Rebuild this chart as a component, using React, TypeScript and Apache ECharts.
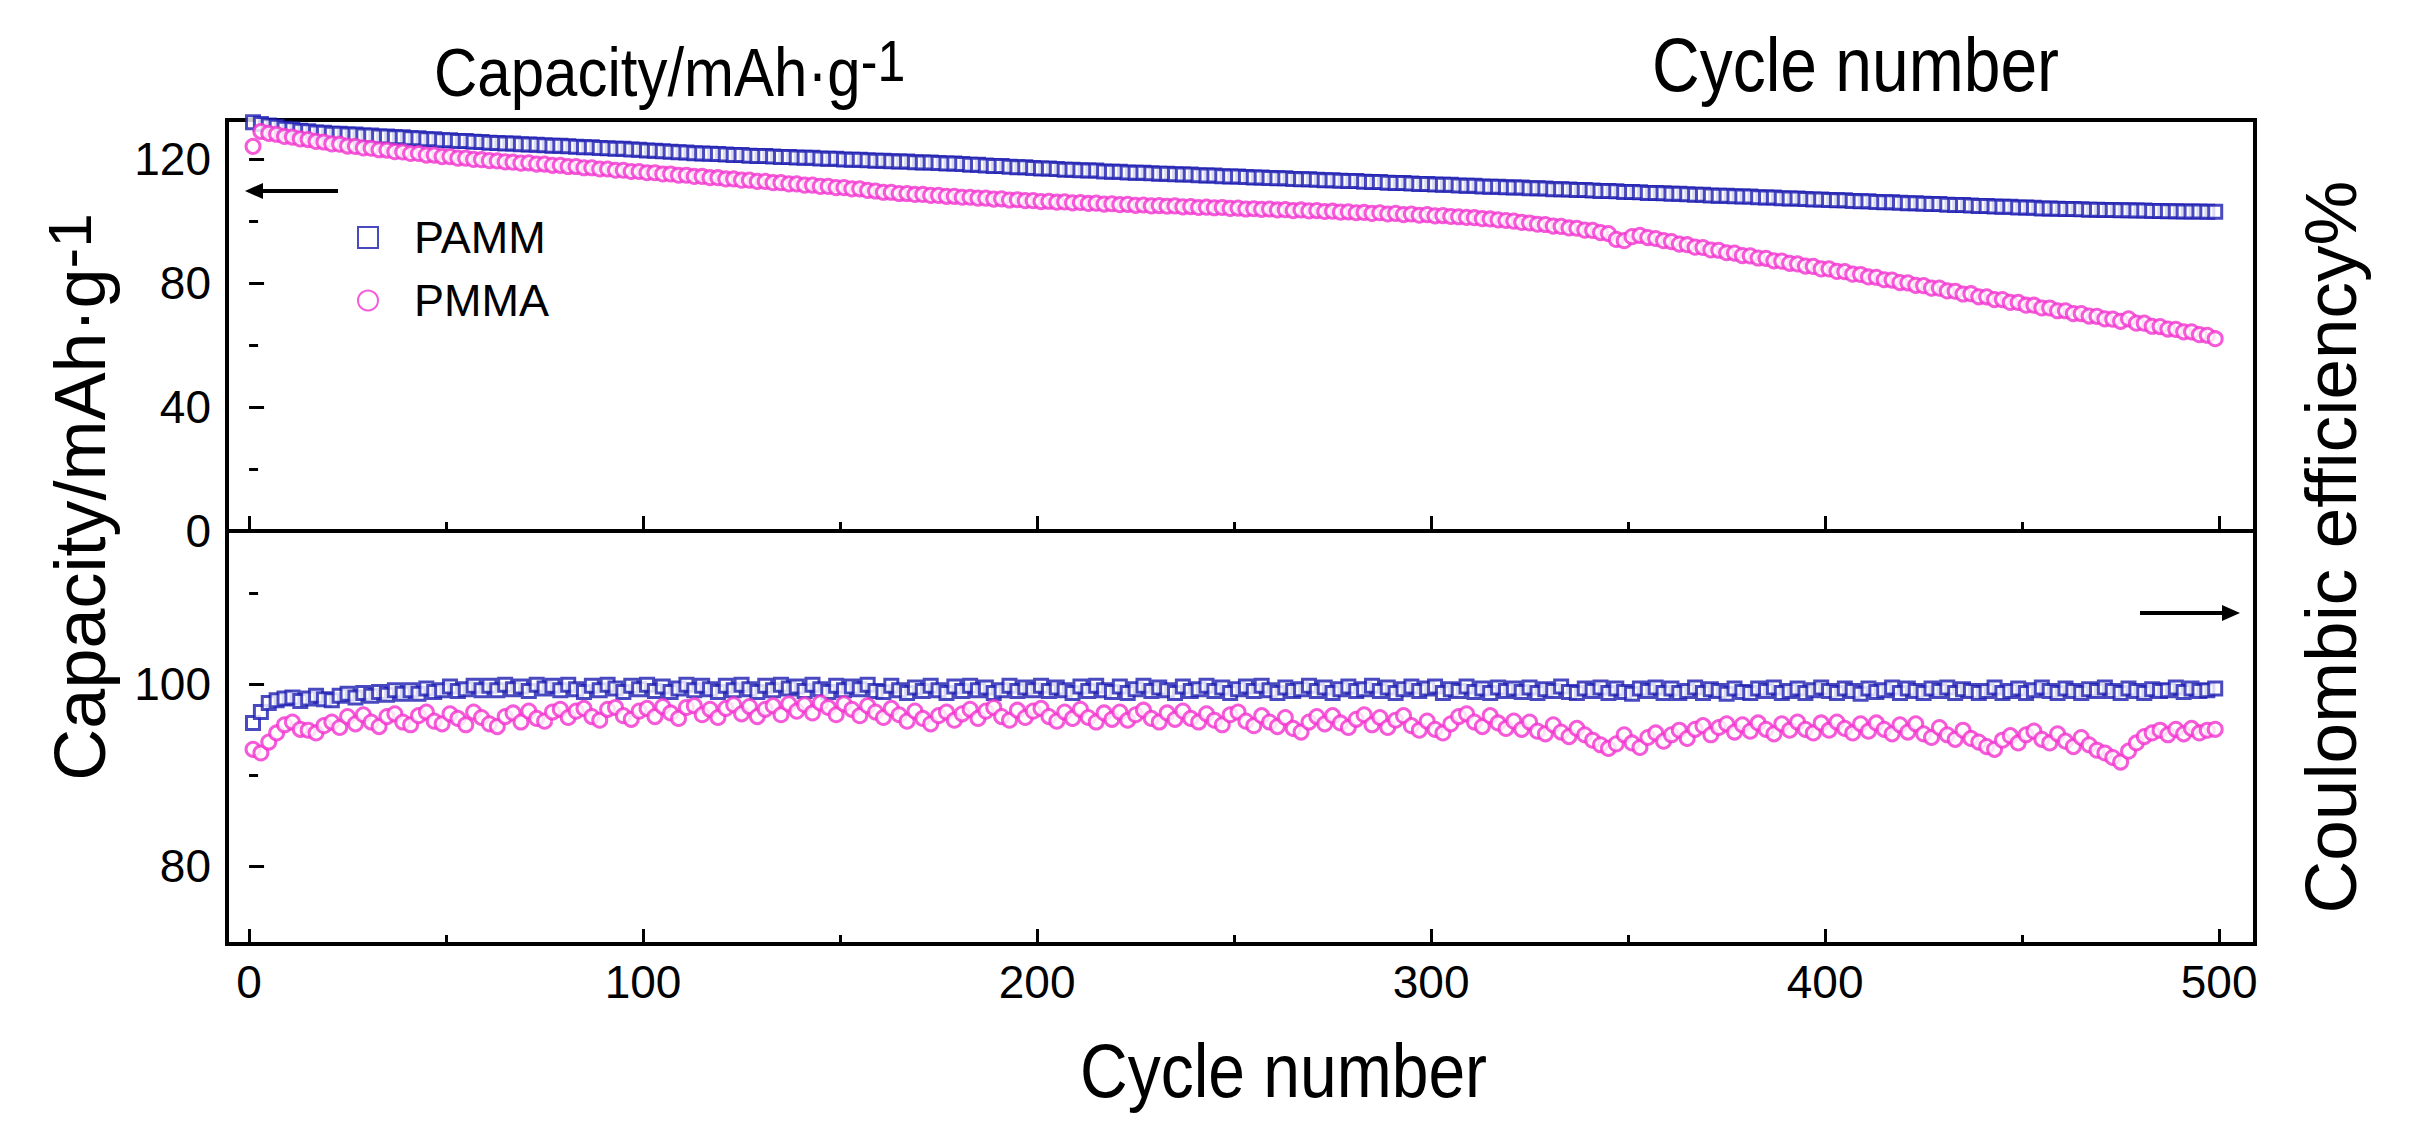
import React, { useEffect, useRef } from "react";
import * as echarts from "echarts";

// ---- data (cycle = 1, 3, 5, ... 499) ----
const CYCLE_START = 1;
const CYCLE_STEP = 2;

const PAMM_CAPACITY = [
  131.8, 131.2, 130.7, 130.3, 129.7, 129.5, 129.0, 128.9, 128.5, 128.4,
  128.1, 128.1, 127.8, 127.8, 127.5, 127.5, 127.2, 127.2, 126.9, 126.9,
  126.6, 126.6, 126.3, 126.3, 126.0, 126.0, 125.7, 125.7, 125.5, 125.4,
  125.2, 125.1, 124.9, 124.9, 124.7, 124.6, 124.5, 124.4, 124.2, 124.2,
  124.0, 123.9, 123.7, 123.7, 123.5, 123.4, 123.2, 123.2, 123.0, 122.9,
  122.7, 122.6, 122.4, 122.3, 122.1, 122.0, 121.8, 121.7, 121.6, 121.5,
  121.4, 121.2, 121.2, 121.0, 120.9, 120.9, 120.7, 120.6, 120.6, 120.4,
  120.3, 120.3, 120.1, 120.0, 120.0, 119.8, 119.7, 119.7, 119.5, 119.4,
  119.4, 119.2, 119.1, 119.1, 118.9, 118.8, 118.8, 118.6, 118.5, 118.5,
  118.3, 118.1, 118.1, 117.8, 117.7, 117.7, 117.4, 117.3, 117.3, 117.0,
  116.9, 116.9, 116.7, 116.5, 116.5, 116.3, 116.2, 116.2, 115.9, 115.8,
  115.8, 115.6, 115.5, 115.5, 115.3, 115.2, 115.2, 115.0, 114.9, 114.9,
  114.7, 114.6, 114.6, 114.4, 114.3, 114.3, 114.1, 114.0, 114.0, 113.8,
  113.7, 113.7, 113.5, 113.4, 113.4, 113.2, 113.1, 113.1, 112.9, 112.8,
  112.8, 112.6, 112.5, 112.5, 112.3, 112.2, 112.2, 112.0, 111.9, 111.9,
  111.7, 111.6, 111.6, 111.4, 111.3, 111.3, 111.1, 111.0, 111.0, 110.8,
  110.7, 110.7, 110.5, 110.5, 110.4, 110.2, 110.2, 110.1, 109.9, 109.9,
  109.8, 109.6, 109.6, 109.5, 109.3, 109.3, 109.2, 109.0, 109.0, 108.9,
  108.7, 108.7, 108.6, 108.4, 108.4, 108.2, 108.1, 108.1, 107.9, 107.8,
  107.8, 107.6, 107.5, 107.5, 107.3, 107.2, 107.2, 107.0, 106.9, 106.9,
  106.7, 106.6, 106.6, 106.4, 106.3, 106.3, 106.1, 106.0, 106.0, 105.8,
  105.7, 105.7, 105.5, 105.4, 105.4, 105.2, 105.1, 105.1, 104.9, 104.8,
  104.8, 104.6, 104.5, 104.5, 104.3, 104.3, 104.2, 104.0, 104.0, 103.9,
  103.8, 103.8, 103.7, 103.6, 103.6, 103.5, 103.5, 103.4, 103.4, 103.3,
  103.3, 103.2, 103.2, 103.1, 103.1, 103.0, 103.0, 103.0, 102.9, 102.9,
];

const PMMA_CAPACITY = [
  124.0, 128.8, 128.2, 127.9, 127.2, 127.0, 126.4, 126.2, 125.6, 125.4,
  124.8, 124.7, 124.1, 124.0, 123.5, 123.4, 122.9, 122.8, 122.3, 122.2,
  121.7, 121.7, 121.2, 121.2, 120.7, 120.7, 120.2, 120.2, 119.8, 119.7,
  119.4, 119.3, 119.0, 118.9, 118.6, 118.7, 118.3, 118.3, 117.9, 117.9,
  117.5, 117.5, 117.1, 117.1, 116.7, 116.7, 116.3, 116.3, 115.9, 115.9,
  115.5, 115.5, 115.1, 115.1, 114.7, 114.7, 114.3, 114.3, 113.9, 113.9,
  113.5, 113.5, 113.1, 113.1, 112.7, 112.7, 112.3, 112.3, 111.9, 111.9,
  111.5, 111.5, 111.1, 111.1, 110.7, 110.7, 110.3, 110.3, 109.8, 109.6,
  109.2, 109.2, 108.8, 108.8, 108.5, 108.5, 108.2, 108.2, 107.9, 107.9,
  107.6, 107.6, 107.3, 107.3, 107.0, 107.1, 106.7, 106.8, 106.5, 106.5,
  106.2, 106.3, 106.0, 106.1, 105.8, 105.9, 105.6, 105.7, 105.4, 105.5,
  105.2, 105.3, 105.0, 105.1, 104.8, 104.9, 104.7, 104.8, 104.5, 104.6,
  104.3, 104.4, 104.2, 104.3, 104.0, 104.1, 103.8, 103.9, 103.7, 103.8,
  103.5, 103.6, 103.3, 103.5, 103.2, 103.3, 103.0, 103.1, 102.8, 102.9,
  102.6, 102.7, 102.4, 102.6, 102.2, 102.4, 102.0, 102.2, 101.8, 102.0,
  101.6, 101.7, 101.4, 101.3, 101.1, 101.0, 100.7, 100.6, 100.3, 100.1,
  99.9, 99.5, 99.3, 98.9, 98.8, 98.3, 98.2, 97.7, 97.6, 97.0,
  96.9, 96.2, 95.9, 94.0, 93.6, 94.9, 95.3, 94.6, 94.3, 93.6,
  93.3, 92.5, 92.3, 91.5, 91.4, 90.6, 90.5, 89.7, 89.6, 88.8,
  88.7, 88.0, 87.9, 87.1, 87.0, 86.3, 86.1, 85.4, 85.3, 84.5,
  84.5, 83.7, 83.6, 82.8, 82.7, 81.9, 81.8, 81.0, 80.9, 80.1,
  80.0, 79.2, 79.1, 78.3, 78.3, 77.4, 77.3, 76.4, 76.5, 75.5,
  75.5, 74.6, 74.6, 73.7, 73.7, 72.8, 72.8, 71.9, 71.9, 71.0,
  71.0, 70.1, 70.1, 69.3, 69.2, 68.4, 68.3, 67.6, 68.4, 67.0,
  67.0, 66.0, 65.9, 65.1, 65.0, 64.2, 64.2, 63.3, 63.1, 62.0,
];

const PAMM_EFFICIENCY = [
  95.7, 96.9, 97.9, 98.2, 98.4, 98.5, 98.1, 98.4, 98.7, 98.3,
  98.2, 98.7, 98.9, 98.5, 99.0, 98.7, 99.1, 98.8, 99.3, 98.9,
  99.3, 98.9, 99.5, 99.1, 99.3, 99.7, 99.2, 99.4, 99.8, 99.3,
  99.8, 99.3, 99.9, 99.4, 99.7, 99.2, 99.9, 99.5, 99.8, 99.3,
  99.9, 99.4, 99.1, 99.8, 99.3, 99.9, 99.5, 99.1, 99.8, 99.4,
  99.9, 99.2, 99.7, 99.1, 99.5, 99.9, 99.3, 99.8, 99.4, 99.1,
  99.8, 99.3, 99.9, 99.4, 99.1, 99.8, 99.3, 99.9, 99.5, 99.7,
  99.2, 99.9, 99.4, 99.1, 99.8, 99.3, 99.7, 99.4, 99.9, 99.2,
  99.1, 99.8, 99.3, 99.0, 99.6, 99.2, 99.8, 99.3, 99.0, 99.7,
  99.2, 99.8, 99.3, 99.6, 99.0, 99.3, 99.8, 99.2, 99.6, 99.3,
  99.8, 99.2, 99.6, 99.3, 99.0, 99.7, 99.2, 99.8, 99.3, 99.1,
  99.7, 99.0, 99.4, 99.8, 99.2, 99.6, 99.3, 99.0, 99.7, 99.2,
  99.4, 99.8, 99.2, 99.6, 99.0, 99.4, 99.7, 99.2, 99.8, 99.3,
  99.0, 99.6, 99.2, 99.4, 99.8, 99.2, 99.6, 99.0, 99.4, 99.7,
  99.2, 99.4, 99.8, 99.2, 99.6, 99.0, 99.4, 99.7, 99.2, 99.5,
  99.7, 99.0, 99.4, 99.2, 99.7, 99.1, 99.5, 99.0, 99.6, 99.2,
  99.5, 99.1, 99.6, 99.0, 99.4, 99.2, 99.7, 99.1, 99.0, 99.5,
  99.2, 99.6, 99.0, 99.5, 99.1, 98.9, 99.5, 99.2, 99.6, 99.0,
  99.5, 99.0, 99.2, 99.6, 99.0, 99.4, 99.2, 98.9, 99.5, 99.1,
  99.0, 99.5, 99.2, 99.6, 99.0, 99.2, 99.5, 99.0, 99.3, 99.6,
  99.2, 99.0, 99.5, 99.2, 98.9, 99.5, 99.1, 99.3, 99.6, 99.0,
  99.5, 99.2, 99.0, 99.5, 99.2, 99.6, 99.0, 99.4, 99.2, 99.0,
  99.2, 99.6, 99.0, 99.2, 99.5, 99.0, 99.3, 99.6, 99.2, 99.0,
  99.5, 99.2, 99.0, 99.4, 99.2, 99.6, 99.2, 99.0, 99.5, 99.2,
  99.0, 99.4, 99.2, 99.3, 99.6, 99.1, 99.5, 99.2, 99.3, 99.5,
];

const PMMA_EFFICIENCY = [
  92.8, 92.4, 93.6, 94.6, 95.5, 95.8, 95.0, 94.9, 94.6, 95.4,
  95.8, 95.2, 96.4, 95.6, 96.6, 95.8, 95.3, 96.4, 96.7, 95.8,
  95.5, 96.5, 96.9, 95.9, 95.6, 96.7, 96.2, 95.5, 96.9, 96.3,
  95.6, 95.3, 96.4, 96.8, 95.8, 97.0, 96.2, 95.9, 96.9, 97.2,
  96.3, 97.0, 97.3, 96.4, 96.0, 97.2, 97.4, 96.5, 96.1, 97.0,
  97.3, 96.4, 97.5, 96.8, 96.2, 97.4, 97.6, 96.6, 97.2, 96.3,
  97.3, 97.7, 96.7, 97.5, 96.4, 97.2, 97.6, 96.6, 97.8, 97.0,
  97.7, 96.8, 97.9, 97.4, 96.6, 97.8, 97.2, 96.5, 97.6, 96.9,
  96.3, 97.3, 96.6, 95.9, 97.0, 96.2, 95.6, 96.5, 96.9, 96.0,
  96.7, 97.2, 96.2, 97.0, 97.4, 96.4, 96.0, 97.1, 96.3, 97.0,
  97.3, 96.4, 95.9, 96.9, 96.2, 97.2, 96.3, 95.8, 96.8, 96.1,
  96.9, 96.0, 96.6, 97.1, 96.2, 95.8, 96.8, 96.1, 97.0, 96.2,
  95.8, 96.7, 96.0, 95.5, 96.6, 96.9, 95.9, 95.4, 96.5, 95.8,
  95.3, 96.3, 95.1, 94.7, 95.8, 96.4, 95.6, 96.5, 95.7, 95.2,
  96.1, 96.6, 95.5, 96.3, 95.2, 96.0, 96.5, 95.4, 94.9, 95.9,
  95.0, 94.6, 95.6, 96.4, 96.7, 95.8, 95.3, 96.5, 95.7, 95.1,
  95.9, 95.0, 95.8, 94.8, 94.5, 95.5, 94.7, 94.2, 95.1, 94.4,
  93.8, 93.3, 92.9, 93.4, 94.4, 93.5, 93.0, 94.1, 94.6, 93.7,
  94.4, 94.9, 94.0, 95.0, 95.4, 94.4, 95.2, 95.6, 94.7, 95.5,
  94.8, 95.7, 95.0, 94.5, 95.6, 94.9, 95.8, 95.0, 94.6, 95.7,
  94.9, 95.8, 95.1, 94.6, 95.6, 94.8, 95.7, 95.0, 94.5, 95.5,
  94.7, 95.6, 94.5, 94.1, 95.2, 94.4, 93.9, 94.9, 94.0, 93.6,
  93.1, 92.8, 93.8, 94.3, 93.5, 94.4, 94.8, 93.9, 93.5, 94.5,
  93.7, 93.1, 94.1, 93.3, 92.7, 92.4, 91.9, 91.4, 92.6, 93.5,
  94.2, 94.6, 94.9, 94.4, 95.0, 94.5, 95.1, 94.6, 94.9, 95.0,
];

// ---- ticks ----
const X_MAJOR_TICKS = [0, 100, 200, 300, 400, 500];
const X_MINOR_TICKS = [50, 150, 250, 350, 450];
const CAP_MAJOR_TICKS = [0, 40, 80, 120];
const CAP_MINOR_TICKS = [20, 60, 100];
const CE_MAJOR_TICKS = [80, 100];
const CE_MINOR_TICKS = [90, 110];

const X_MIN = -5.6;
const X_MAX = 509.1;
const CAP_MIN = 0;
const CAP_MAX = 132.5;
const CE_MIN = 71.4;
const CE_MAX = 116.8;

const BLUE = "#1c1cb0";
const PINK = "#f232ce";
const TEXT_FONT = "'Liberation Sans', Arial, Helvetica, sans-serif";
const TICK_FONT = "'Liberation Sans', Arial, sans-serif";

const toPoints = (vals: number[]) =>
  vals.map((v, i) => [CYCLE_START + i * CYCLE_STEP, v]);

function xAxisDef(gridIndex: number, ticks: number[], major: boolean, labels: boolean) {
  return {
    type: "value",
    gridIndex,
    position: "bottom",
    min: X_MIN,
    max: X_MAX,
    axisLine: { show: false },
    splitLine: { show: false },
    axisTick: {
      show: true,
      inside: true,
      length: major ? 15 : 9,
      customValues: ticks,
      lineStyle: { color: "#000", width: 3 },
    },
    axisLabel: {
      show: labels,
      customValues: ticks,
      margin: 15,
      fontSize: 46,
      fontFamily: TICK_FONT,
      color: "#000",
    },
  };
}

function yAxisDef(
  gridIndex: number,
  min: number,
  max: number,
  ticks: number[],
  major: boolean,
  labels: boolean
) {
  return {
    type: "value",
    gridIndex,
    position: "left",
    min,
    max,
    axisLine: { show: false },
    splitLine: { show: false },
    axisTick: {
      show: true,
      inside: true,
      length: major ? 15 : 9,
      customValues: ticks,
      lineStyle: { color: "#000", width: 3 },
    },
    axisLabel: {
      show: labels,
      customValues: ticks,
      margin: 16,
      fontSize: 46,
      fontFamily: TICK_FONT,
      color: "#000",
    },
  };
}

function scatter(
  name: string,
  axis: number,
  values: number[],
  symbol: string,
  size: number,
  color: string
) {
  return {
    name,
    type: "scatter",
    xAxisIndex: axis,
    yAxisIndex: axis,
    data: toPoints(values),
    symbol,
    symbolSize: size,
    itemStyle: { color: "#fff", borderColor: color, borderWidth: 3 },
    silent: true,
  };
}

export default function App() {
  const ref = useRef<HTMLDivElement>(null);

  useEffect(() => {
    if (!ref.current) return;
    const chart = echarts.init(ref.current, null, { renderer: "svg" });

    const series = [
      scatter("PAMM", 0, PAMM_CAPACITY, "rect", 13, BLUE),
      scatter("PMMA", 0, PMMA_CAPACITY, "circle", 14, PINK),
      scatter("PAMM", 2, PAMM_EFFICIENCY, "rect", 13, BLUE),
      scatter("PMMA", 2, PMMA_EFFICIENCY, "circle", 14, PINK),
    ];

    const titleScale = 1.15;

    const option = {
      animation: false,
      backgroundColor: "#fff",
      grid: [
        {
          left: 227,
          top: 120,
          width: 2028,
          height: 411,
          show: true,
          borderColor: "#000",
          borderWidth: 4,
          backgroundColor: "transparent",
        },
        {
          left: 227,
          top: 531,
          width: 2028,
          height: 413,
          show: true,
          borderColor: "#000",
          borderWidth: 4,
          backgroundColor: "transparent",
        },
      ],
      xAxis: [
        xAxisDef(0, X_MAJOR_TICKS, true, false),
        xAxisDef(0, X_MINOR_TICKS, false, false),
        xAxisDef(1, X_MAJOR_TICKS, true, true),
        xAxisDef(1, X_MINOR_TICKS, false, false),
      ],
      yAxis: [
        yAxisDef(0, CAP_MIN, CAP_MAX, CAP_MAJOR_TICKS, true, true),
        yAxisDef(0, CAP_MIN, CAP_MAX, CAP_MINOR_TICKS, false, false),
        yAxisDef(1, CE_MIN, CE_MAX, CE_MAJOR_TICKS, true, true),
        yAxisDef(1, CE_MIN, CE_MAX, CE_MINOR_TICKS, false, false),
      ],
      legend: {
        orient: "vertical",
        left: 352,
        top: 210,
        itemWidth: 20,
        itemHeight: 21,
        itemGap: 18,
        selectedMode: false,
        data: ["PAMM", "PMMA"],
        textStyle: {
          fontSize: 45,
          lineHeight: 45,
          fontFamily: TEXT_FONT,
          color: "#000",
          padding: [0, 0, 0, 31],
        },
      },
      graphic: [
        {
          type: "text",
          x: 434,
          y: 72,
          scaleY: titleScale,
          style: {
            text: "{a|Capacity/mAh·g}{b|-1}",
            align: "left",
            verticalAlign: "middle",
            fill: "#000",
            fontFamily: TEXT_FONT,
            rich: {
              a: { fontSize: 60, lineHeight: 70, fontFamily: TEXT_FONT, fill: "#000" },
              b: { fontSize: 50, lineHeight: 54, verticalAlign: "top", fontFamily: TEXT_FONT, fill: "#000" },
            },
          },
        },
        {
          type: "text",
          x: 1652,
          y: 65,
          scaleY: titleScale,
          style: {
            text: "Cycle number",
            align: "left",
            verticalAlign: "middle",
            fontSize: 66,
            fontFamily: TEXT_FONT,
            fill: "#000",
          },
        },
        {
          type: "text",
          x: 1080,
          y: 1071,
          scaleY: titleScale,
          style: {
            text: "Cycle number",
            align: "left",
            verticalAlign: "middle",
            fontSize: 66,
            fontFamily: TEXT_FONT,
            fill: "#000",
          },
        },
        {
          type: "text",
          x: 80,
          y: 497,
          rotation: Math.PI / 2,
          style: {
            text: "{a|Capacity/mAh·g}{b|-1}",
            align: "center",
            verticalAlign: "middle",
            fill: "#000",
            fontFamily: TEXT_FONT,
            rich: {
              a: { fontSize: 72, lineHeight: 84, fontFamily: TEXT_FONT, fill: "#000" },
              b: { fontSize: 62, lineHeight: 46, verticalAlign: "top", fontFamily: TEXT_FONT, fill: "#000" },
            },
          },
        },
        {
          type: "text",
          x: 2330,
          y: 547,
          rotation: Math.PI / 2,
          style: {
            text: "Coulombic efficiency%",
            align: "center",
            verticalAlign: "middle",
            fontSize: 73,
            fontFamily: TEXT_FONT,
            fill: "#000",
          },
        },
        // left-pointing arrow (capacity -> left axis)
        {
          type: "line",
          shape: { x1: 258, y1: 191, x2: 338, y2: 191 },
          style: { stroke: "#000", lineWidth: 4 },
        },
        {
          type: "polygon",
          shape: { points: [[245, 191], [263, 183], [263, 199]] },
          style: { fill: "#000" },
        },
        // right-pointing arrow (efficiency -> right axis)
        {
          type: "line",
          shape: { x1: 2140, y1: 613, x2: 2226, y2: 613 },
          style: { stroke: "#000", lineWidth: 4 },
        },
        {
          type: "polygon",
          shape: { points: [[2240, 613], [2222, 605], [2222, 621]] },
          style: { fill: "#000" },
        },
      ],
      series,
    };

    chart.setOption(option as any);
    return () => chart.dispose();
  }, []);

  return (
    <div
      ref={ref}
      style={{
        position: "fixed",
        left: 0,
        top: 0,
        width: "2419px",
        height: "1145px",
        background: "#fff",
      }}
    />
  );
}
